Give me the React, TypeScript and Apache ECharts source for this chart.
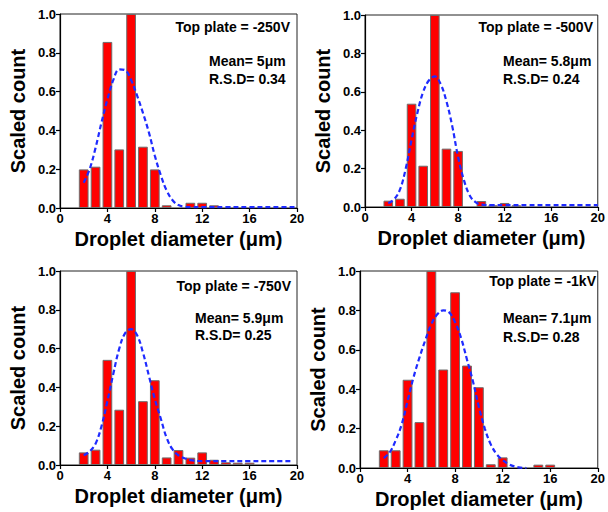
import React, { useEffect, useRef } from "react";
import * as echarts from "echarts";

// ---- Data ----
const binCenters = [2, 3, 4, 5, 6, 7, 8, 9, 10, 11, 12, 13, 14, 15, 16];

const counts250 = [0.199, 0.213, 0.856, 0.302, 1.0, 0.316, 0.199, 0.014, 0, 0.027, 0.027, 0.014, 0, 0, 0];
const counts500 = [0.033, 0.043, 0.538, 0.215, 1.0, 0.304, 0.292, 0, 0.031, 0.009, 0.021, 0.009, 0, 0, 0];
const counts750 = [0.065, 0.079, 0.542, 0.285, 1.0, 0.329, 0.437, 0.039, 0.077, 0.038, 0.065, 0.027, 0.014, 0.012, 0.012];
const counts1k = [0.09, 0.09, 0.448, 0.233, 1.0, 0.5, 0.892, 0.52, 0.41, 0.019, 0.054, 0, 0, 0.017, 0.017];

const fitX250 = [2, 2.5, 3, 3.5, 4, 4.5, 5, 5.5, 6, 6.5, 7, 7.5, 8, 8.5, 9, 9.5, 10, 10.5, 11, 12, 14, 16, 18, 20];
const fitY250 = [0.13, 0.2, 0.31, 0.44, 0.56, 0.66, 0.715, 0.71, 0.66, 0.58, 0.49, 0.39, 0.27, 0.17, 0.09, 0.04, 0.015, 0.007, 0.005, 0.005, 0.005, 0.005, 0.005, 0.005];

const fitX500 = [2, 2.5, 3, 3.5, 4, 4.5, 5, 5.5, 6, 6.5, 7, 7.5, 8, 8.5, 9, 9.5, 10, 11, 12, 14, 16, 18, 20];
const fitY500 = [0.02, 0.04, 0.09, 0.2, 0.35, 0.49, 0.6, 0.66, 0.68, 0.64, 0.55, 0.42, 0.26, 0.14, 0.06, 0.025, 0.012, 0.01, 0.01, 0.01, 0.01, 0.01, 0.01];

const fitX750 = [2, 2.5, 3, 3.5, 4, 4.5, 5, 5.5, 6, 6.5, 7, 7.5, 8, 8.5, 9, 9.5, 10, 10.5, 11, 12, 14, 16, 18, 19.5];
const fitY750 = [0.05, 0.07, 0.11, 0.2, 0.33, 0.47, 0.6, 0.68, 0.7, 0.67, 0.58, 0.46, 0.34, 0.24, 0.14, 0.08, 0.05, 0.035, 0.025, 0.02, 0.02, 0.02, 0.02, 0.02];

const fitX1k = [2, 2.5, 3, 3.5, 4, 4.5, 5, 5.5, 6, 6.5, 7, 7.5, 8, 8.5, 9, 9.5, 10, 10.5, 11, 11.5, 12, 12.5, 13, 13.5, 14];
const fitY1k = [0.05, 0.08, 0.14, 0.22, 0.34, 0.46, 0.56, 0.65, 0.73, 0.78, 0.8, 0.79, 0.74, 0.66, 0.55, 0.44, 0.31, 0.2, 0.12, 0.07, 0.04, 0.02, 0.008, 0.002, 0];

const plateLabels = ["Top plate = -250V", "Top plate = -500V", "Top plate = -750V", "Top plate = -1kV"];
const meanLabels = ["Mean= 5μm", "Mean= 5.8μm", "Mean= 5.9μm", "Mean= 7.1μm"];
const rsdLabels = ["R.S.D= 0.34", "R.S.D= 0.24", "R.S.D= 0.25", "R.S.D= 0.28"];

const xTitle = "Droplet diameter (μm)";
const yTitle = "Scaled count";

// ---- Layout ----
const grids = [
  { left: 60, top: 14, width: 237, height: 194 },
  { left: 365, top: 15, width: 234, height: 192 },
  { left: 60, top: 271, width: 237, height: 194 },
  { left: 360, top: 271, width: 240, height: 197 },
];
const plateRight = [290, 593, 291, 596];
const plateY = [27, 27, 286, 281];
const statsLeft = [209, 503, 195, 503];
const meanY = [61, 61, 318, 318];
const rsdY = [79, 79, 335, 337];

const FONT = '"Liberation Sans", Arial, Helvetica, sans-serif';

export default function App() {
  const ref = useRef<HTMLDivElement>(null);

  useEffect(() => {
    if (!ref.current) return;
    const chart = echarts.init(ref.current, null, { renderer: "svg" });

    const countsAll = [counts250, counts500, counts750, counts1k];
    const fitsX = [fitX250, fitX500, fitX750, fitX1k];
    const fitsY = [fitY250, fitY500, fitY750, fitY1k];

    const xAxes: any[] = [];
    const yAxes: any[] = [];
    const series: any[] = [];
    const graphics: any[] = [];

    grids.forEach((g, i) => {
      xAxes.push({
        type: "value",
        gridIndex: i,
        min: 0,
        max: 20,
        interval: 4,
        axisLine: { show: true, onZero: false, lineStyle: { color: "#000", width: 1.2 } },
        axisTick: { show: true, inside: false, length: 4, lineStyle: { color: "#000", width: 1.2 } },
        axisLabel: { color: "#000", fontSize: 13, fontWeight: "bold", fontFamily: FONT, margin: 4 },
        splitLine: { show: false },
        name: xTitle,
        nameLocation: "middle",
        nameGap: 21,
        nameTextStyle: { color: "#000", fontSize: 20, fontWeight: "bold", fontFamily: FONT },
      });
      yAxes.push({
        type: "value",
        gridIndex: i,
        min: 0,
        max: 1,
        interval: 0.2,
        axisLine: { show: true, onZero: false, lineStyle: { color: "#000", width: 1.2 } },
        axisTick: { show: true, inside: false, length: 4, lineStyle: { color: "#000", width: 1.2 } },
        axisLabel: {
          color: "#000",
          fontSize: 13,
          fontWeight: "bold",
          fontFamily: FONT,
          margin: 4,
          formatter: (v: number) => v.toFixed(1),
        },
        splitLine: { show: false },
        name: yTitle,
        nameLocation: "middle",
        nameGap: 32,
        nameTextStyle: { color: "#000", fontSize: 20, fontWeight: "bold", fontFamily: FONT },
      });

      const barW = (g.width / 20) * 0.82;
      series.push({
        type: "bar",
        xAxisIndex: i,
        yAxisIndex: i,
        barWidth: barW,
        data: binCenters
          .map((x, k) => [x, countsAll[i][k]])
          .filter((d) => d[1] > 0),
        itemStyle: { color: "#ff0000", borderColor: "#6e6e6e", borderWidth: 1 },
        z: 2,
      });
      series.push({
        type: "line",
        xAxisIndex: i,
        yAxisIndex: i,
        smooth: 0.4,
        showSymbol: false,
        symbol: "none",
        data: fitsX[i].map((x, k) => [x, fitsY[i][k]]),
        lineStyle: { color: "#1f2bff", width: 2.2, type: [5, 3] },
        z: 3,
      });

      graphics.push({
        type: "text",
        x: plateRight[i],
        y: plateY[i],
        style: {
          text: plateLabels[i],
          fill: "#000",
          font: `bold 14px ${FONT}`,
          align: "right",
          verticalAlign: "middle",
        },
      });
      graphics.push({
        type: "text",
        x: statsLeft[i],
        y: meanY[i],
        style: {
          text: meanLabels[i],
          fill: "#000",
          font: `bold 14px ${FONT}`,
          align: "left",
          verticalAlign: "middle",
        },
      });
      graphics.push({
        type: "text",
        x: statsLeft[i],
        y: rsdY[i],
        style: {
          text: rsdLabels[i],
          fill: "#000",
          font: `bold 14px ${FONT}`,
          align: "left",
          verticalAlign: "middle",
        },
      });
    });

    chart.setOption({
      animation: false,
      backgroundColor: "#ffffff",
      grid: grids.map((g) => ({
        ...g,
        show: true,
        borderColor: "#222",
        borderWidth: 1,
        backgroundColor: "transparent",
        containLabel: false,
      })),
      xAxis: xAxes,
      yAxis: yAxes,
      series,
      graphic: graphics,
    });

    return () => chart.dispose();
  }, []);

  return (
    <div
      ref={ref}
      style={{ position: "absolute", left: 0, top: 0, width: 608, height: 512, background: "#fff" }}
    />
  );
}
